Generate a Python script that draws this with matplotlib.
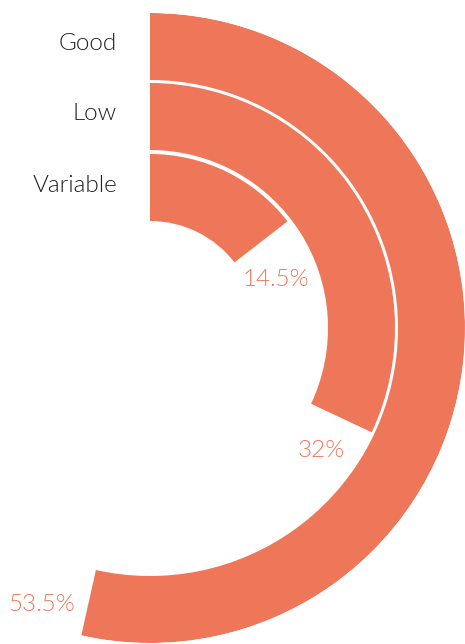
import numpy as np
import matplotlib.pyplot as plt

# data
categories = ["Good", "Low", "Variable"]
values = [53.5, 32, 14.5]          # percent of full circle
value_labels = ["53.5%", "32%", "14.5%"]

# ring layout (pixel units, figure is 465x644 at dpi 100)
W, H = 465, 644
R = 315
cx, cy = 150, 316                  # centre, measured from bottom-left
ring_bottom = [248, 178, 107]
ring_height = 67
label_r = [297, 210, 135]
label_gap = [46, 38, 39]           # arc distance (px) after the end of each bar

coral = "#EE7659"

fig = plt.figure(figsize=(W / 100, H / 100), dpi=100)
ax = fig.add_axes([(cx - R) / W, (cy - R) / H, 2 * R / W, 2 * R / H], projection="polar")
ax.set_theta_zero_location("N")
ax.set_theta_direction(-1)
ax.set_ylim(0, R)
ax.axis("off")

theta = np.array(values) / 100 * 2 * np.pi
ax.bar(np.zeros(len(values)), ring_height, width=theta, bottom=ring_bottom,
       align="edge", color=coral, edgecolor="none")

font = dict(family=["Lato", "DejaVu Sans"], fontweight=300, fontsize=17.5)

for cat, b in zip(categories, ring_bottom):
    ax.annotate(cat, xy=(0, b + ring_height / 2), xytext=(-33, -4),
                textcoords="offset pixels", ha="right", va="baseline",
                color="#222222", **font)

for t, r, g, lab in zip(theta, label_r, label_gap, value_labels):
    ax.text(t + g / r, r, lab, ha="center", va="center",
            color=coral, clip_on=False, **font)

fig.savefig("out.png", dpi=100)
